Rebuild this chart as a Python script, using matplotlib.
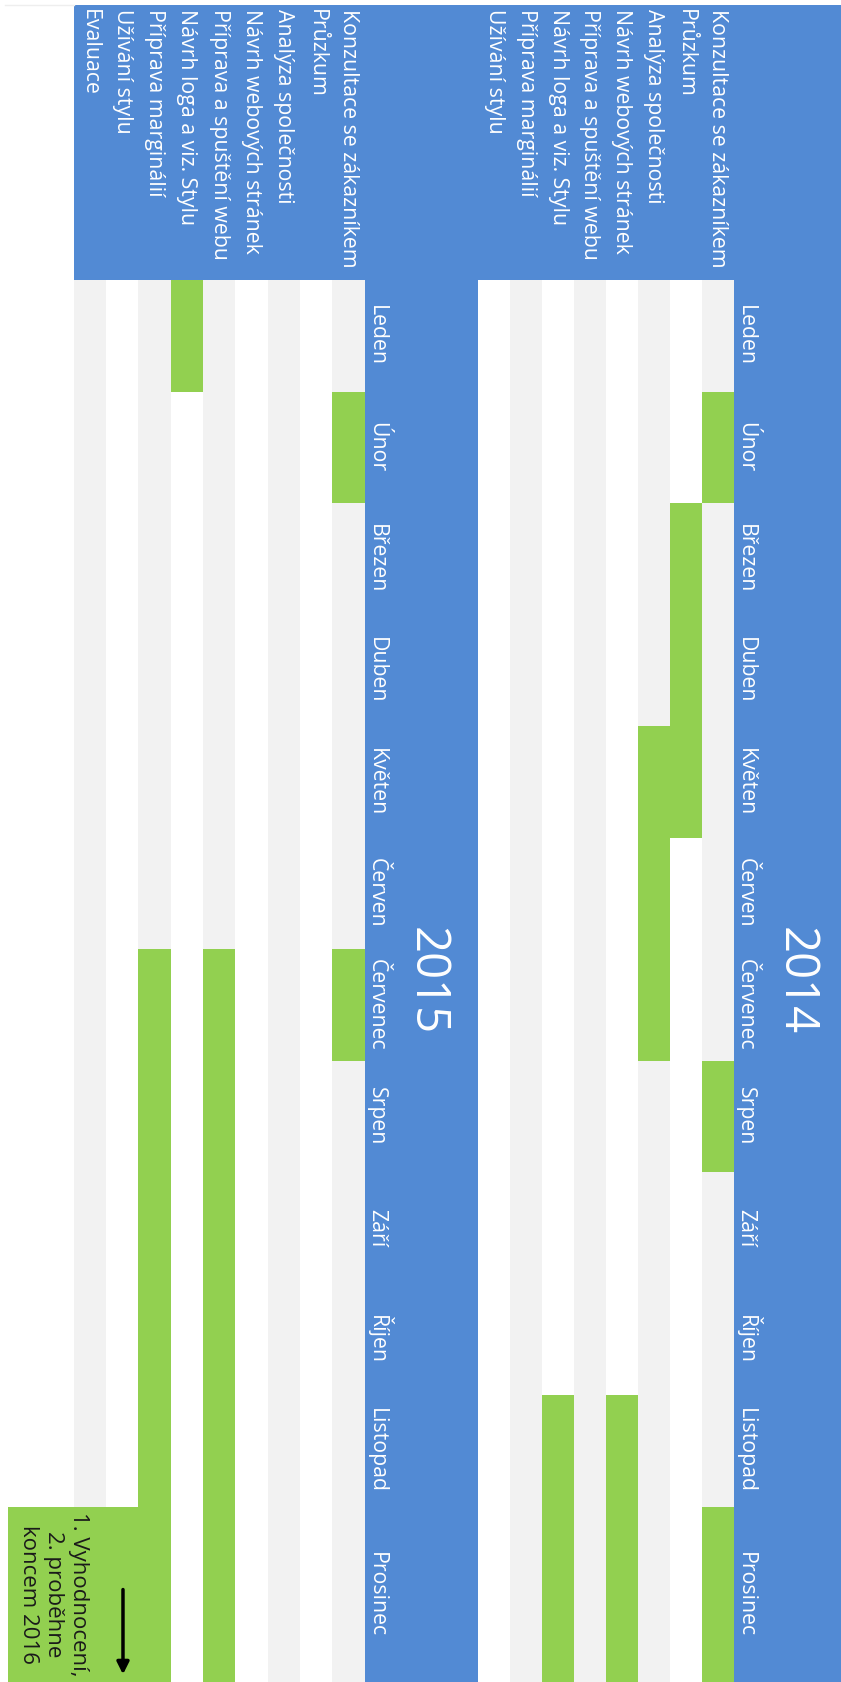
import matplotlib.pyplot as plt
from matplotlib.patches import Rectangle
import matplotlib.transforms as mtransforms

plt.rcParams["font.family"] = ["Open Sans", "DejaVu Sans"]

# ---------------------------
# data
# ---------------------------
months = ["Leden", "Únor", "Březen", "Duben", "Květen", "Červen",
          "Červenec", "Srpen", "Září", "Říjen", "Listopad", "Prosinec"]

tasks_2014 = ["Konzultace se zákazníkem", "Průzkum", "Analýza společnosti",
              "Návrh webových stránek", "Příprava a spuštění webu",
              "Návrh loga a viz. Stylu", "Příprava marginálií", "Užívání stylu"]
tasks_2015 = tasks_2014 + ["Evaluace"]

# (úkol, první měsíc, poslední měsíc), 0 = leden
plan_2014 = [
    ("Konzultace se zákazníkem", 1, 1),
    ("Konzultace se zákazníkem", 7, 7),
    ("Konzultace se zákazníkem", 11, 11),
    ("Průzkum", 2, 4),
    ("Analýza společnosti", 4, 6),
    ("Návrh webových stránek", 10, 11),
    ("Návrh loga a viz. Stylu", 10, 11),
]
plan_2015 = [
    ("Konzultace se zákazníkem", 1, 1),
    ("Konzultace se zákazníkem", 6, 6),
    ("Příprava a spuštění webu", 6, 11),
    ("Návrh loga a viz. Stylu", 0, 0),
    ("Příprava marginálií", 6, 11),
]
note_2015 = "1. Vyhodnocení,\n2. proběhne\nkoncem 2016"

# ---------------------------
# layout (pixels)
# ---------------------------
W, H, DPI = 841, 1682, 100
HEAD_TOP, HEAD_BOT = 5, 280
ROW_H = 111.5
Y_END = (H - HEAD_BOT) / ROW_H

BLUE = "#528ad4"
GREEN = "#92d050"
GRAY = "#f2f2f2"
FS = 15.3

fig = plt.figure(figsize=(W / DPI, H / DPI), dpi=DPI)


def add_px_axes(x0, x1, y0, y1):
    return fig.add_axes([x0 / W, 1 - y1 / H, (x1 - x0) / W, (y1 - y0) / H])


# modrá hlavička (pod osami, aby byly vidět popisky)
fig.patches.append(Rectangle((73.5 / W, 1 - HEAD_BOT / H), 1 - 73.5 / W,
                             (HEAD_BOT - HEAD_TOP) / H,
                             transform=fig.transFigure, color=BLUE, lw=0,
                             zorder=-1))
# slabá linka vlevo nahoře
fig.add_artist(plt.Line2D([5 / W, 73.5 / W], [1 - HEAD_TOP / H] * 2,
                          transform=fig.transFigure, color="#eeeeee", lw=1))


def draw_year(x0, x1, band_end, tasks, plan, year):
    ax = add_px_axes(x0, x1, HEAD_BOT, H)
    band = add_px_axes(x1, band_end, HEAD_BOT, H)
    n = len(tasks)
    pos = {t: n - 1 - i for i, t in enumerate(tasks)}

    ax.set_xlim(-0.5, n - 0.5)
    ax.set_ylim(Y_END, 0)
    for i, t in enumerate(tasks):
        if i % 2 == 0:
            ax.axvspan(pos[t] - 0.5, pos[t] + 0.5, color=GRAY, lw=0)
    for t, m0, m1 in plan:
        end = m1 + 1 if m1 < 11 else Y_END
        ax.bar(pos[t], end - m0, bottom=m0, width=1, color=GREEN, lw=0)
    ax.axis("off")

    # popisky úkolů v hlavičce
    tr = mtransforms.blended_transform_factory(ax.transData, fig.transFigure)
    for t in tasks:
        ax.text(pos[t], 1 - 9 / H, t, transform=tr, rotation=-90,
                ha="center", va="top", color="white", fontsize=FS,
                clip_on=False, zorder=5)

    # pruh s měsíci
    band.set_facecolor(BLUE)
    band.set_xlim(0, band_end - x1)
    band.set_ylim(Y_END, 0)
    for i, m in enumerate(months):
        yc = i + 0.5 if i < 11 else (11 + Y_END) / 2
        band.text(1.5, yc, m, rotation=-90, ha="left", va="center",
                  color="white", fontsize=FS)
    band.text(62, Y_END / 2, year, rotation=-90, ha="center", va="center",
              color="white", fontsize=34)
    band.set_xticks([])
    band.set_yticks([])
    for s in band.spines.values():
        s.set_visible(False)
    return ax, pos


ax15, pos15 = draw_year(73.5, 364.6, 478.3, tasks_2015, plan_2015, "2015")
ax14, pos14 = draw_year(478.3, 733.5, W, tasks_2014, plan_2014, "2014")

# poznámka k evaluaci (prosinec 2015)
col_w = (364.6 - 73.5) / len(tasks_2015)
left = -0.5 - (73.5 - 8) / col_w
right = pos15["Příprava marginálií"] + 0.5
ax15.add_patch(Rectangle((left, 11), right - left, Y_END - 11,
                         color=GREEN, lw=0, clip_on=False))
ax15.text(-1.12, (11 + Y_END) / 2, note_2015, rotation=-90, ha="center",
          va="center", multialignment="center", color="#1a1a1a",
          fontsize=16, linespacing=1.25, clip_on=False)
ax15.annotate("", xy=(1.03, 12.53), xytext=(1.03, 11.72),
              arrowprops=dict(arrowstyle="-|>", color="black", lw=2.5,
                              mutation_scale=18),
              annotation_clip=False)

fig.savefig("out.png", dpi=DPI)
